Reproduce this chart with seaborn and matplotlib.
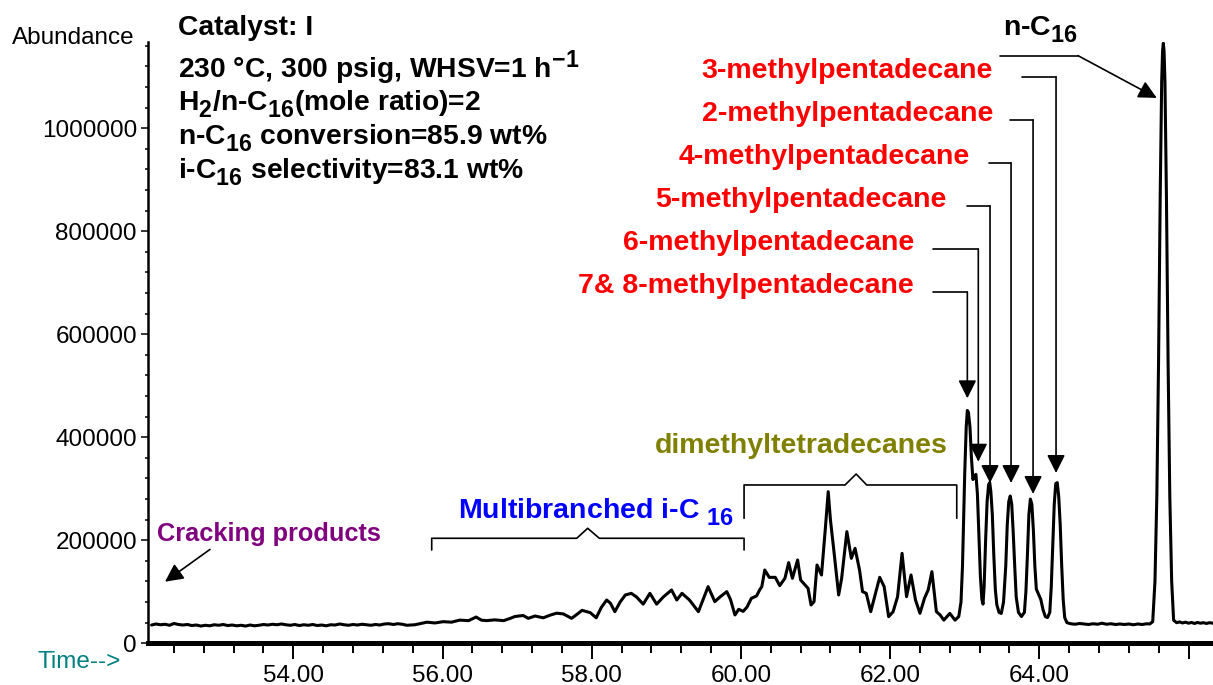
import matplotlib
matplotlib.use("Agg")
import matplotlib.pyplot as plt
import matplotlib._mathtext as mathtext_internals
from matplotlib.ticker import MultipleLocator, FixedLocator, FixedFormatter
import seaborn as sns

# subscripts in the original are drawn almost full size and sit lower
mathtext_internals.SHRINK_FACTOR = 0.82
if hasattr(mathtext_internals, "FontConstantsBase"):
    mathtext_internals.FontConstantsBase.sub1 = 0.5

# ----------------------------
# Data (time in min, abundance in counts)
# ----------------------------
# flat part before the branched isomers
early_t = [52.10, 52.16, 52.22, 52.28, 52.34, 52.40, 52.46, 52.52, 52.58, 52.64,
           52.70, 52.76, 52.82, 52.88, 52.94, 53.00, 53.06, 53.12, 53.18, 53.24,
           53.30, 53.36, 53.42, 53.48, 53.54, 53.60, 53.66, 53.72, 53.78, 53.84,
           53.90, 53.96, 54.02, 54.08, 54.14, 54.20, 54.26, 54.32, 54.38, 54.44,
           54.50, 54.56, 54.62, 54.68, 54.74, 54.80, 54.86, 54.92, 54.98, 55.04,
           55.10, 55.16, 55.22, 55.28, 55.34, 55.40, 55.46]
early_v = [35500, 37500, 36000, 37000, 35000, 38500, 36500, 35500, 36500, 34500,
           35500, 33500, 35000, 34000, 36000, 35000, 36500, 34500, 35500, 34000,
           35000, 33500, 35500, 34000, 35000, 36500, 35500, 37000, 36000, 37500,
           36000, 35000, 36500, 34500, 36000, 35000, 36500, 34500, 35500, 34000,
           36000, 35500, 37500, 36000, 35000, 36500, 35500, 37000, 36000, 35000,
           36500, 35500, 37500, 38000, 36500, 38000, 37000]

# multibranched + dimethyl region
branched_t = [55.52, 55.63, 55.79, 55.90, 56.01, 56.12, 56.23, 56.35, 56.45, 56.52,
              56.59, 56.70, 56.82, 56.90, 56.97, 57.08, 57.15, 57.24, 57.35, 57.45,
              57.53, 57.62, 57.73, 57.80, 57.87, 57.98, 58.06, 58.13, 58.20, 58.25,
              58.31, 58.38, 58.45, 58.53, 58.60, 58.69, 58.78, 58.87, 58.96, 59.07,
              59.14, 59.21, 59.31, 59.43, 59.49, 59.56, 59.65, 59.72, 59.81, 59.86,
              59.92, 59.97, 60.03, 60.08, 60.14, 60.21, 60.25, 60.28, 60.32, 60.38,
              60.46, 60.52, 60.59, 60.64, 60.69, 60.76, 60.80, 60.86, 60.90, 60.94,
              60.98, 61.02, 61.08, 61.13, 61.17, 61.20, 61.24, 61.31, 61.35, 61.42,
              61.48, 61.53, 61.59, 61.63, 61.68, 61.74, 61.81, 61.86, 61.92, 61.98,
              62.04, 62.10, 62.16, 62.22, 62.28, 62.34, 62.40, 62.46, 62.51, 62.56,
              62.62, 62.67, 62.72, 62.80, 62.87, 62.92]
branched_v = [35000, 36000, 41000, 39500, 42000, 41000, 45000, 44000, 51000, 45000,
              44000, 45500, 44000, 48000, 52000, 54000, 48500, 53000, 49500, 55000,
              58500, 57000, 48500, 56000, 64000, 59500, 49500, 70000, 84000, 78000,
              61400, 80000, 93800, 97000, 90000, 76000, 97000, 76000, 90000, 103500,
              84100, 97000, 84100, 61400, 84000, 110000, 80850, 90000, 100300, 85000,
              55000, 66000, 62000, 70000, 87300, 92000, 103500, 110000, 142300, 128000,
              128100, 112000, 126200, 156600, 126200, 161800, 122900, 113200, 106700, 74400,
              80850, 152000, 132600, 220000, 294400, 239400, 187600, 93800, 126200, 216800,
              165000, 184400, 142300, 100300, 97000, 61400, 100300, 128100, 110000, 51700,
              61400, 90600, 174700, 90600, 132600, 84100, 58200, 87300, 103500, 139100,
              61400, 55000, 45000, 58000, 45000, 52000]

# monomethyl peaks
mono_t = [62.95, 62.97, 63.00, 63.02, 63.035, 63.05, 63.07, 63.09, 63.11, 63.13,
          63.15, 63.17, 63.19, 63.21, 63.23, 63.245, 63.26, 63.28, 63.30, 63.32,
          63.335, 63.35, 63.37, 63.39, 63.41, 63.43, 63.46, 63.49, 63.52, 63.55,
          63.57, 63.59, 63.61, 63.63, 63.65, 63.67, 63.69, 63.72, 63.76, 63.80,
          63.82, 63.84, 63.86, 63.88, 63.90, 63.92, 63.94, 63.96, 63.99, 64.02,
          64.05, 64.08, 64.11, 64.14, 64.16, 64.18, 64.20, 64.22, 64.24, 64.26,
          64.28, 64.30, 64.32, 64.34, 64.37]
mono_v = [80000, 150000, 330000, 420000, 452000, 448000, 420000, 360000, 318000, 325000,
          328000, 290000, 210000, 130000, 85000, 76000, 110000, 200000, 275000, 308000,
          312000, 295000, 250000, 170000, 105000, 75000, 60000, 58000, 80000, 150000,
          230000, 275000, 286000, 270000, 215000, 150000, 90000, 60000, 52000, 60000,
          100000, 170000, 250000, 280000, 270000, 220000, 150000, 105000, 95000, 85000,
          65000, 52000, 50000, 60000, 110000, 190000, 270000, 310000, 312000, 285000,
          230000, 150000, 85000, 50000, 40000]

# baseline and the n-C16 peak
late_t = [64.42, 64.48, 64.54, 64.60, 64.66, 64.72, 64.78, 64.84, 64.90, 64.96,
          65.02, 65.08, 65.14, 65.20, 65.26, 65.32, 65.38, 65.44, 65.48, 65.52,
          65.55, 65.575, 65.598, 65.620, 65.640, 65.652, 65.662, 65.672, 65.684, 65.704,
          65.726, 65.749, 65.774, 65.800, 65.84, 65.88, 65.92, 65.96, 66.00, 66.04,
          66.08, 66.12, 66.16, 66.20, 66.24, 66.28, 66.33]
late_v = [38000, 37000, 38500, 37500, 36500, 38000, 37000, 39000, 37000, 38000,
          36500, 37500, 36500, 37500, 36000, 37500, 36500, 38000, 37500, 42000,
          120000, 285000, 545000, 865000, 1090000, 1150000, 1165000, 1150000, 1090000, 865000,
          545000, 285000, 120000, 45000, 40000, 41500, 39500, 41000, 39000, 40500,
          38500, 40500, 39000, 40000, 38500, 40000, 39000]

time_min = early_t + branched_t + mono_t + late_t
abundance = early_v + branched_v + mono_v + late_v

# labelled methylpentadecane peaks
peak_names = ["3-methylpentadecane", "2-methylpentadecane", "4-methylpentadecane",
              "5-methylpentadecane", "6-methylpentadecane", "7& 8-methylpentadecane"]
peak_times = [64.224, 63.916, 63.621, 63.339, 63.182, 63.035]
arrow_tips = [330700, 290000, 311200, 311200, 352600, 475700]
label_right = [63.38, 63.38, 63.07, 62.76, 62.32, 62.32]
label_levels = [1099600, 1016100, 932600, 849100, 765600, 682100]
leader_start = [63.768, 63.607, 63.326, 63.027, 62.575, 62.575]

# brackets over the isomer groups
multi_x = [55.855, 55.855, 57.799, 57.946, 58.102, 60.042, 60.042]
multi_y = [181200, 203900, 203900, 223300, 203900, 203900, 181200]
dimethyl_x = [60.042, 60.042, 61.396, 61.544, 61.686, 62.893, 62.893]
dimethyl_y = [242700, 307400, 307400, 328700, 307400, 307400, 242700]

x_ticks = [54, 56, 58, 60, 62, 64, 66]
x_labels = ["54.00", "56.00", "58.00", "60.00", "62.00", "64.00", ""]
y_ticks = [0, 200000, 400000, 600000, 800000, 1000000]

conditions = [
    "Catalyst: I",
    r"230 °C, 300 psig, WHSV=1 h$^{-1}$",
    r"H$_{2}$/n-C$_{16}$(mole ratio)=2",
    r"n-C$_{16}$ conversion=85.9 wt%",
    r"i-C$_{16}$ selectivity=83.1 wt%",
]
cond_baselines = [35, 78, 111, 144, 179]   # pixels from top

# ----------------------------
# Style
# ----------------------------
sns.set_theme(style="ticks")
plt.rcParams["font.family"] = ["Liberation Sans", "DejaVu Sans"]
plt.rcParams["mathtext.fontset"] = "custom"
plt.rcParams["mathtext.rm"] = "Liberation Sans:bold"
plt.rcParams["mathtext.it"] = "Liberation Sans:bold"
plt.rcParams["mathtext.bf"] = "Liberation Sans:bold"
plt.rcParams["mathtext.default"] = "regular"

W, H = 1213, 685
fig = plt.figure(figsize=(W / 100, H / 100), dpi=100)
ax = fig.add_axes([148 / W, 1 - 643.3 / H, 1 - 148 / W, (643.3 - 41.7) / H])

sns.lineplot(x=time_min, y=abundance, ax=ax, color="black", linewidth=2.2,
             estimator=None, sort=False)

ax.set_xlim(52.052, 66.328)
ax.set_ylim(0, 1168000)

ax.xaxis.set_major_locator(FixedLocator(x_ticks))
ax.xaxis.set_major_formatter(FixedFormatter(x_labels))
ax.xaxis.set_minor_locator(MultipleLocator(0.4))
ax.yaxis.set_major_locator(FixedLocator(y_ticks))
ax.yaxis.set_major_formatter(FixedFormatter([str(v) for v in y_ticks]))
ax.yaxis.set_minor_locator(MultipleLocator(40000))

ax.tick_params(axis="x", which="major", direction="out", length=11.5, width=1.4,
               pad=4.3, labelsize=17.5, colors="black")
ax.tick_params(axis="x", which="minor", direction="out", length=7, width=1.4, colors="black")
ax.tick_params(axis="y", which="major", direction="out", length=5, width=1.1,
               pad=3, labelsize=17.5, colors="black")
ax.tick_params(axis="y", which="minor", direction="out", length=2.5, width=1.1, colors="black")

for side in ["top", "right"]:
    ax.spines[side].set_visible(False)
ax.spines["bottom"].set_linewidth(3.6)
ax.spines["left"].set_linewidth(1.8)
ax.spines["bottom"].set_color("black")
ax.spines["left"].set_color("black")
ax.set_xlabel("")
ax.set_ylabel("")

arrow_style = dict(arrowstyle="-|>,head_length=1.1,head_width=0.55", color="black",
                   lw=1.2, shrinkA=0, shrinkB=0, mutation_scale=10)

# ----------------------------
# Peak labels with leader lines
# ----------------------------
for name, pt, tip, lx, lvl, ls in zip(peak_names, peak_times, arrow_tips,
                                      label_right, label_levels, leader_start):
    ax.text(lx, lvl - 2000, name, color="#ff0000", fontsize=20.5, fontweight="bold",
            ha="right", va="baseline")
    ax.plot([ls, pt], [lvl, lvl], color="black", lw=1.2)
    ax.annotate("", xy=(pt, tip), xytext=(pt, lvl), arrowprops=arrow_style)

# n-C16 main peak
ax.text(63.513, 1181000, r"n-C$_{16}$", fontsize=20.5, fontweight="bold",
        ha="left", va="baseline", color="black")
ax.plot([63.473, 64.519], [1140900, 1140900], color="black", lw=1.2, clip_on=False)
ax.annotate("", xy=(65.574, 1058800), xytext=(64.519, 1140900), arrowprops=arrow_style)

# group brackets
ax.plot(multi_x, multi_y, color="black", lw=1.2)
ax.plot(dimethyl_x, dimethyl_y, color="black", lw=1.2)
ax.text(56.21, 242700, r"Multibranched i-C $_{16}$", color="#0000ff", fontsize=20.5,
        fontweight="bold", ha="left", va="baseline")
ax.text(62.775, 369500, "dimethyltetradecanes", color="#808000", fontsize=20.5,
        fontweight="bold", ha="right", va="baseline")

# cracking products
ax.text(52.17, 199200, "Cracking products", color="#800080", fontsize=18.3,
        fontweight="bold", ha="left", va="baseline")
ax.annotate("", xy=(52.280, 119600), xytext=(52.883, 182300), arrowprops=arrow_style)

# reaction conditions block
for line, base in zip(conditions, cond_baselines):
    fig.text(178 / W, 1 - base / H, line, fontsize=20.3, fontweight="bold",
             ha="left", va="baseline", color="black")

fig.text(12 / W, 1 - 44 / H, "Abundance", fontsize=17.5, ha="left", va="baseline",
         color="black")
fig.text(38 / W, 1 - 668 / H, "Time-->", fontsize=17.5, ha="left", va="baseline",
         color="#008080")

fig.savefig("out.png", dpi=100)
